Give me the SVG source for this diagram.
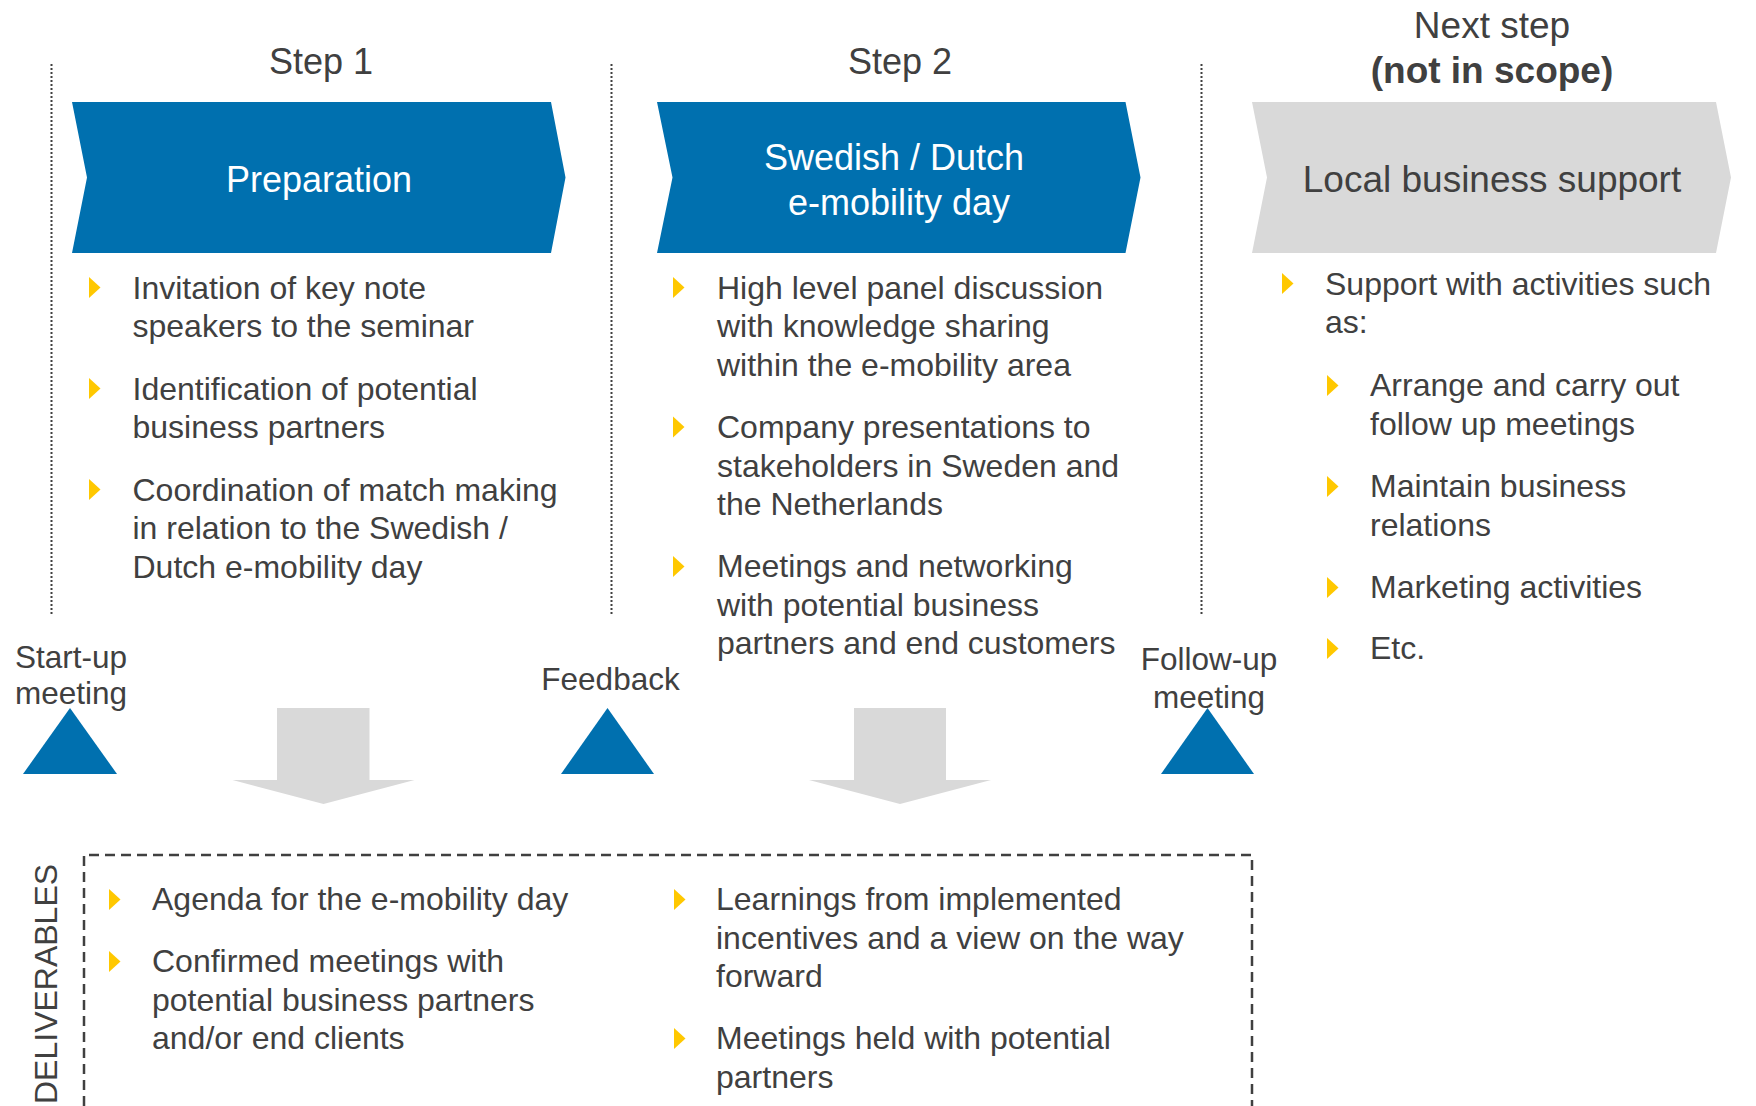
<svg xmlns="http://www.w3.org/2000/svg" xmlns:xlink="http://www.w3.org/1999/xlink" width="1756" height="1106" viewBox="0 0 1756 1106">
<defs>
<style>
text{font-family:"Liberation Sans",Arial,sans-serif;fill:#404040}
.hdr{font-size:36px;text-anchor:middle}
.nxt{font-size:37px;text-anchor:middle}
.bold{font-weight:bold}
.chev{fill:#0070AF}
.chevg{fill:#D9D9D9}
.wt{fill:#FFFFFF;font-size:36px;text-anchor:middle}
.gt{font-size:37px;text-anchor:middle}
.bt{font-size:32px}
.ms{font-size:31.5px;text-anchor:middle}
.tri{fill:#0070AF}
.arr{fill:#D9D9D9}
.sep{stroke:#404040;stroke-width:2;stroke-dasharray:2 2;fill:none}
.box{stroke:#404040;stroke-width:2.5;stroke-dasharray:10 6;fill:none}
.bul{fill:#FFC800}
</style>
<path id="bul" class="bul" d="M0,-21 L11.5,-10.5 L0,0 Z"/>
</defs>
<rect width="1756" height="1106" fill="#FFFFFF"/>

<g id="separators">
<line class="sep" x1="51.5" y1="64" x2="51.5" y2="614"/>
<line class="sep" x1="611.5" y1="64" x2="611.5" y2="614"/>
<line class="sep" x1="1201.5" y1="64" x2="1201.5" y2="614"/>
</g>

<g id="step1-label"><text class="hdr" x="321" y="74">Step 1</text></g>
<g id="step2-label"><text class="hdr" x="900" y="74">Step 2</text></g>
<g id="next-label">
<text class="nxt" x="1492" y="38">Next step</text>
<text class="nxt bold" x="1492" y="83">(not in scope)</text>
</g>

<g id="chevron-preparation">
<polygon class="chev" points="72,102 551,102 565.5,177.5 551,253 72,253 87,177.5"/>
<text class="wt" x="319" y="192">Preparation</text>
</g>
<g id="chevron-emobility">
<polygon class="chev" points="657,102 1125.5,102 1140.5,177.5 1125.5,253 657,253 672.5,177.5"/>
<text class="wt" x="894" y="170">Swedish / Dutch</text>
<text class="wt" x="899" y="215">e-mobility day</text>
</g>
<g id="chevron-local">
<polygon class="chevg" points="1252,102 1716,102 1731,177.5 1716,253 1252,253 1267,177.5"/>
<text class="gt" x="1492" y="192">Local business support</text>
</g>

<g id="list-step1">
<use xlink:href="#bul" x="89" y="298"/>
<text class="bt" x="132.5" y="298.5">Invitation of key note</text>
<text class="bt" x="132.5" y="337">speakers to the seminar</text>
<use xlink:href="#bul" x="89" y="399"/>
<text class="bt" x="132.5" y="399.5">Identification of potential</text>
<text class="bt" x="132.5" y="438">business partners</text>
<use xlink:href="#bul" x="89" y="500"/>
<text class="bt" x="132.5" y="500.5">Coordination of match making</text>
<text class="bt" x="132.5" y="539">in relation to the Swedish /</text>
<text class="bt" x="132.5" y="577.5">Dutch e-mobility day</text>
</g>

<g id="list-step2">
<use xlink:href="#bul" x="673" y="298"/>
<text class="bt" x="717" y="298.5">High level panel discussion</text>
<text class="bt" x="717" y="337">with knowledge sharing</text>
<text class="bt" x="717" y="375.5">within the e-mobility area</text>
<use xlink:href="#bul" x="673" y="437.5"/>
<text class="bt" x="717" y="438">Company presentations to</text>
<text class="bt" x="717" y="476.5">stakeholders in Sweden and</text>
<text class="bt" x="717" y="515">the Netherlands</text>
<use xlink:href="#bul" x="673" y="577"/>
<text class="bt" x="717" y="577">Meetings and networking</text>
<text class="bt" x="717" y="615.5">with potential business</text>
<text class="bt" x="717" y="654">partners and end customers</text>
</g>

<g id="list-next">
<use xlink:href="#bul" x="1282" y="294"/>
<text class="bt" x="1325" y="294.5">Support with activities such</text>
<text class="bt" x="1325" y="333">as:</text>
<use xlink:href="#bul" x="1327" y="396"/>
<text class="bt" x="1370" y="396">Arrange and carry out</text>
<text class="bt" x="1370" y="434.5">follow up meetings</text>
<use xlink:href="#bul" x="1327" y="497"/>
<text class="bt" x="1370" y="497">Maintain business</text>
<text class="bt" x="1370" y="535.5">relations</text>
<use xlink:href="#bul" x="1327" y="598"/>
<text class="bt" x="1370" y="598">Marketing activities</text>
<use xlink:href="#bul" x="1327" y="659"/>
<text class="bt" x="1370" y="659">Etc.</text>
</g>

<g id="milestone-startup">
<text class="ms" x="71" y="668">Start-up</text>
<text class="ms" x="71" y="704">meeting</text>
<polygon class="tri" points="70,708 117,774 23,774"/>
</g>
<g id="milestone-feedback">
<text class="ms" x="610.5" y="690">Feedback</text>
<polygon class="tri" points="607.5,708 654,774 561,774"/>
</g>
<g id="milestone-followup">
<text class="ms" x="1209" y="670">Follow-up</text>
<text class="ms" x="1209" y="708">meeting</text>
<polygon class="tri" points="1207.5,708 1254,774 1161,774"/>
</g>

<g id="connectors">
<polygon class="arr" points="277,708 369.5,708 369.5,780 414.5,780 323.5,804 232.5,780 277,780"/>
<polygon class="arr" points="854,708 946,708 946,780 991,780 900,804 809,780 854,780"/>
</g>

<g id="deliverables">
<polyline class="box" points="84,1106 84,855 1252,855 1252,1106"/>
<text class="bt" transform="translate(57,1104) rotate(-90)">DELIVERABLES</text>
<use xlink:href="#bul" x="109" y="910"/>
<text class="bt" x="152" y="910">Agenda for the e-mobility day</text>
<use xlink:href="#bul" x="109" y="972"/>
<text class="bt" x="152" y="972">Confirmed meetings with</text>
<text class="bt" x="152" y="1010.5">potential business partners</text>
<text class="bt" x="152" y="1049">and/or end clients</text>
<use xlink:href="#bul" x="674" y="910"/>
<text class="bt" x="716" y="910">Learnings from implemented</text>
<text class="bt" x="716" y="948.5">incentives and a view on the way</text>
<text class="bt" x="716" y="987">forward</text>
<use xlink:href="#bul" x="674" y="1049"/>
<text class="bt" x="716" y="1049">Meetings held with potential</text>
<text class="bt" x="716" y="1087.5">partners</text>
</g>
</svg>
